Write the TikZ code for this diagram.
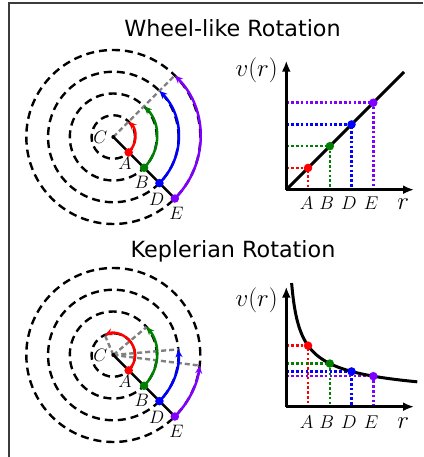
\documentclass[tikz,border=0pt]{standalone}
\usepackage{fix-cm}
\usepackage{fontspec}
\newfontfamily\titlefont{DejaVu Sans}
\usetikzlibrary{arrows.meta}
\definecolor{cred}{RGB}{255,0,0}
\definecolor{cgreen}{RGB}{0,128,0}
\definecolor{cblue}{RGB}{0,0,255}
\definecolor{cpurple}{RGB}{127,0,255}
\definecolor{cgray}{RGB}{128,128,128}
\definecolor{cframe}{RGB}{60,60,60}
\tikzset{
  frameline/.style={cframe, line width=1.2pt},
  titlenode/.style={font=\titlefont\fontsize{22.3}{26}\selectfont, inner sep=0pt, anchor=base},
  dcirc/.style={black, line width=2.4pt, dash pattern=on 8pt off 5pt},
  gline/.style={cgray, line width=2.4pt, dash pattern=on 5pt off 3pt},
  radline/.style={black, line width=2.4pt},
  arcline/.style={line width=2.5pt, -{Stealth[length=8pt,width=7pt]}},
  dotn/.style={circle, inner sep=0pt, minimum size=8.5pt},
  cdot/.style={circle, fill=black, inner sep=0pt, minimum size=4pt},
  clab/.style={font=\fontsize{18}{20}\selectfont, inner sep=0pt},
  axlab/.style={font=\fontsize{18.5}{20}\selectfont, inner sep=0pt, anchor=base},
  biglab/.style={font=\fontsize{25}{28}\selectfont, inner sep=0pt},
  axisline/.style={black, line width=3pt, -{Latex[length=11pt,width=9pt]}},
  curveline/.style={black, line width=3pt},
  dotline/.style={line width=2.6pt, dash pattern=on 2.6pt off 2.2pt},
}
\begin{document}
\begin{tikzpicture}[x=1pt,y=1pt]
\useasboundingbox (0,0) rectangle (423,457);
\draw[frameline] (9,0) -- (9,454) -- (423,454);

% ---------------- Titles
\node[titlenode] (t1) at (232.5,420.3) {Wheel-like Rotation};
\node[titlenode] (t2) at (233,199.7) {Keplerian Rotation};

% ---------------- Top circles (wheel-like)
\begin{scope}[shift={(113.3,320)}]
  \coordinate (C1) at (0,0);
  \foreach \k in {1,2,3,4} \draw[dcirc] (C1) circle ({21.75*\k});
  \coordinate (G1) at (45:87);
  \draw[gline] (C1) -- (G1);
  \node[dotn] (E1) at (-45:87) {};
  \draw[radline] (C1) -- (E1.center);
  \draw[arcline, cred]    (-45:21.75) arc[start angle=-45, end angle=45, radius=21.75];
  \draw[arcline, cgreen]  (-45:43.5)  arc[start angle=-45, end angle=45, radius=43.5];
  \draw[arcline, cblue]   (-45:65.25) arc[start angle=-45, end angle=45, radius=65.25];
  \draw[arcline, cpurple] (-45:87)    arc[start angle=-45, end angle=45, radius=87];
  \node[dotn, fill=cred]    (A1) at (-45:21.75) {};
  \node[dotn, fill=cgreen]  (B1) at (-45:43.5) {};
  \node[dotn, fill=cblue]   (D1) at (-45:65.25) {};
  \node[dotn, fill=cpurple] at (E1.center) {};
  \node[cdot] (c1dot) at (C1) {};
  \node[clab] (lC1) at (-13,0) {$C$};
  \node[clab] (lA1) at (11.7,-26.3) {$A$};
  \node[clab] (lB1) at (28.5,-45.5) {$B$};
  \node[clab] (lD1) at (43.5,-62) {$D$};
  \node[clab] (lE1) at (63,-76.5) {$E$};
\end{scope}

% ---------------- Bottom circles (Keplerian)
\begin{scope}[shift={(113.3,102)}]
  \coordinate (C2) at (0,0);
  \foreach \k in {1,2,3,4} \draw[dcirc] (C2) circle ({21.75*\k});
  \coordinate (GA2) at (113:21.75);
  \coordinate (GB2) at (40:43.5);
  \coordinate (GD2) at (5:65.25);
  \coordinate (GE2) at (-7:87);
  \draw[gline] (C2) -- (GA2);
  \draw[gline] (C2) -- (GB2);
  \draw[gline] (C2) -- (GD2);
  \draw[gline] (C2) -- (GE2);
  \node[dotn] (E2) at (-45:87) {};
  \draw[radline] (C2) -- (E2.center);
  \draw[arcline, cred]    (-45:21.75) arc[start angle=-45, end angle=113, radius=21.75];
  \draw[arcline, cgreen]  (-45:43.5)  arc[start angle=-45, end angle=40, radius=43.5];
  \draw[arcline, cblue]   (-45:65.25) arc[start angle=-45, end angle=5, radius=65.25];
  \draw[arcline, cpurple] (-45:87)    arc[start angle=-45, end angle=-7, radius=87];
  \node[dotn, fill=cred]    (A2) at (-45:21.75) {};
  \node[dotn, fill=cgreen]  (B2) at (-45:43.5) {};
  \node[dotn, fill=cblue]   (D2) at (-45:65.25) {};
  \node[dotn, fill=cpurple] at (E2.center) {};
  \node[cdot] (c2dot) at (C2) {};
  \node[clab] (lC2) at (-13,0) {$C$};
  \node[clab] (lA2) at (11.7,-26.3) {$A$};
  \node[clab] (lB2) at (28.5,-45.5) {$B$};
  \node[clab] (lD2) at (43.5,-62) {$D$};
  \node[clab] (lE2) at (63,-76.5) {$E$};
\end{scope}

% ---------------- Top plot (linear)
\begin{scope}[shift={(286.3,267.3)}]
  \coordinate (O1) at (0,0);
  \coordinate (Y1) at (0,129);
  \coordinate (X1) at (127.7,0);
  \coordinate (L1) at (117.7,117.7);
  \foreach \k/\c in {1/cred,2/cgreen,3/cblue,4/cpurple}{
    \draw[dotline, \c] (0,{21.75*\k}) -- ({21.75*\k},{21.75*\k}) -- ({21.75*\k},0);
  }
  \draw[curveline] (O1) -- (L1);
  \draw[axisline] (O1) -- (Y1);
  \draw[axisline] (O1) -- (X1);
  \node[dotn, fill=cred]    (pA1) at (21.75,21.75) {};
  \node[dotn, fill=cgreen]  (pB1) at (43.5,43.5) {};
  \node[dotn, fill=cblue]   (pD1) at (65.25,65.25) {};
  \node[dotn, fill=cpurple] (pE1) at (87,87) {};
  \node[axlab] (xA1) at (20.4,-19.6) {$A$};
  \node[axlab] (xB1) at (40.4,-19.6) {$B$};
  \node[axlab] (xD1) at (62.7,-19.6) {$D$};
  \node[axlab] (xE1) at (84.7,-19.6) {$E$};
  \node[biglab, anchor=base] (xr1) at (117,-20.3) {$r$};
  \node[biglab] (v1) at (-29.6,119) {$v(r)$};
\end{scope}

% ---------------- Bottom plot (Keplerian)
\begin{scope}[shift={(286.3,50.3)}]
  \coordinate (O2) at (0,0);
  \coordinate (Y2) at (0,120);
  \coordinate (X2) at (127.7,0);
  \foreach \k/\c in {1/cred,2/cgreen,3/cblue,4/cpurple}{
    \draw[dotline, \c] (0,{284.7/sqrt(21.75*\k)}) -- ({21.75*\k},{284.7/sqrt(21.75*\k)}) -- ({21.75*\k},0);
  }
  \draw[axisline] (O2) -- (Y2);
  \draw[axisline] (O2) -- (X2);
  \draw[curveline] plot[domain=5.3:131, samples=120, smooth] (\x,{284.7/sqrt(\x)});
  \node[dotn, fill=cred]    (pA2) at (21.75,61.05) {};
  \node[dotn, fill=cgreen]  (pB2) at (43.5,43.17) {};
  \node[dotn, fill=cblue]   (pD2) at (65.25,35.25) {};
  \node[dotn, fill=cpurple] (pE2) at (87,30.52) {};
  \node[axlab] (xA2) at (20.4,-21.5) {$A$};
  \node[axlab] (xB2) at (40.4,-21.5) {$B$};
  \node[axlab] (xD2) at (62.7,-21.5) {$D$};
  \node[axlab] (xE2) at (84.7,-21.5) {$E$};
  \node[biglab, anchor=base] (xr2) at (117,-21.5) {$r$};
  \node[biglab] (v2) at (-29.6,106.7) {$v(r)$};
\end{scope}
\end{tikzpicture}
\end{document}
